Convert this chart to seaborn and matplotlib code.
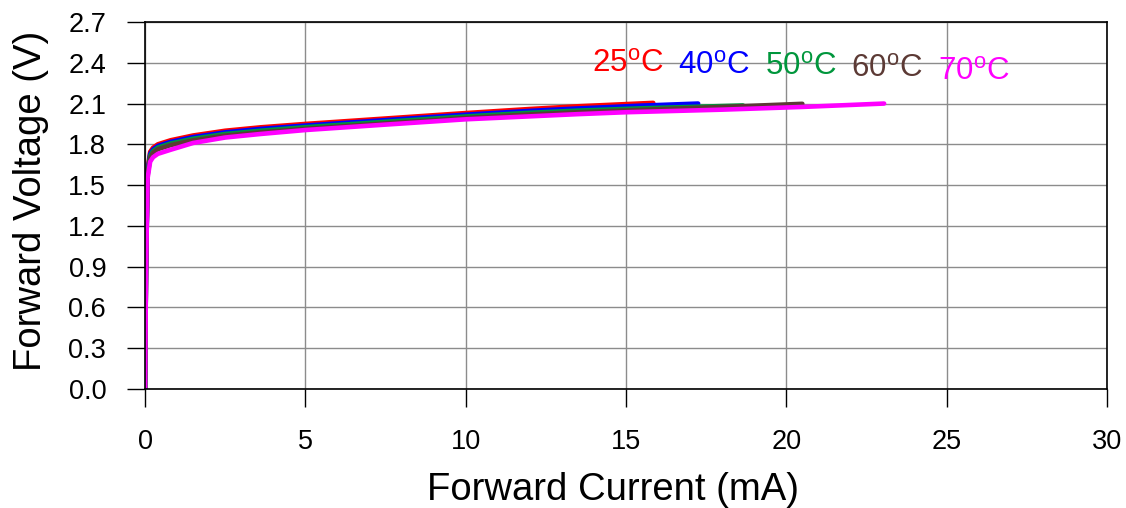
import pandas as pd
import matplotlib.pyplot as plt
import seaborn as sns

# forward current (mA) / forward voltage (V)
i_25 = [0, 0.03, 0.08, 0.16, 0.25, 0.4, 0.8, 1.5, 2.5, 3.6, 5, 7.5, 10, 12, 13.5, 15.85]
v_25 = [0, 0.9, 1.62, 1.745, 1.775, 1.80, 1.83, 1.865, 1.90, 1.925, 1.95, 1.99, 2.03, 2.06, 2.08, 2.105]

i_40 = [0, 0.03, 0.08, 0.16, 0.25, 0.4, 0.8, 1.5, 2.5, 3.6, 5, 7.5, 10, 12, 13.5, 15.5, 17.25]
v_40 = [0, 0.88, 1.60, 1.73, 1.762, 1.788, 1.818, 1.853, 1.888, 1.913, 1.938, 1.978, 2.018, 2.046, 2.064, 2.085, 2.10]

i_50 = [0, 0.03, 0.08, 0.16, 0.25, 0.4, 0.8, 1.5, 2.5, 3.6, 5, 7.5, 10, 12, 13.5, 15.5, 17.9, 18.65]
v_50 = [0, 0.87, 1.585, 1.715, 1.75, 1.776, 1.806, 1.841, 1.876, 1.90, 1.926, 1.966, 2.005, 2.032, 2.048, 2.065, 2.081, 2.086]

i_60 = [0, 0.03, 0.08, 0.16, 0.25, 0.4, 0.8, 1.5, 2.5, 3.6, 5, 7.5, 10, 12, 13.5, 15.5, 18, 20.5]
v_60 = [0, 0.86, 1.57, 1.70, 1.738, 1.764, 1.794, 1.829, 1.864, 1.888, 1.914, 1.954, 1.994, 2.02, 2.036, 2.054, 2.075, 2.098]

i_70 = [0, 0.03, 0.08, 0.16, 0.25, 0.4, 0.8, 1.5, 2.5, 3.6, 5, 7.5, 10, 13.5, 15, 18, 20.5, 23.05]
v_70 = [0, 0.85, 1.55, 1.672, 1.705, 1.73, 1.76, 1.81, 1.85, 1.876, 1.905, 1.945, 1.984, 2.022, 2.036, 2.055, 2.075, 2.10]

temps = ['25', '40', '50', '60', '70']
colors = ['#FF0000', '#0000FF', '#00963C', '#5C3A35', '#FF00FF']
x_ticks = [0, 5, 10, 15, 20, 25, 30]
y_ticks = [0.0, 0.3, 0.6, 0.9, 1.2, 1.5, 1.8, 2.1, 2.4, 2.7]

sns.set_style('white')
plt.rcParams['font.family'] = ['Liberation Sans', 'DejaVu Sans']
plt.rcParams['mathtext.fontset'] = 'custom'
plt.rcParams['mathtext.rm'] = 'Liberation Sans'
plt.rcParams['text.color'] = 'black'
plt.rcParams['axes.labelcolor'] = 'black'
plt.rcParams['xtick.color'] = 'black'
plt.rcParams['ytick.color'] = 'black'

frames = []
for t, i, v in zip(temps, [i_25, i_40, i_50, i_60, i_70], [v_25, v_40, v_50, v_60, v_70]):
    frames.append(pd.DataFrame({'I': i, 'V': v, 'T': t}))
df = pd.concat(frames, ignore_index=True)

fig = plt.figure(figsize=(11.26, 5.08), dpi=100)
ax = fig.add_axes([0.1288, 0.2343, 0.8543, 0.7224])

sns.lineplot(data=df, x='I', y='V', hue='T', hue_order=temps, palette=colors,
             estimator=None, sort=False, linewidth=3.3, legend=False, ax=ax)

ax.set_xlim(0, 30)
ax.set_ylim(0, 2.7)
ax.set_xticks(x_ticks)
ax.set_yticks(y_ticks)
ax.set_yticklabels([f'{y:.1f}' for y in y_ticks])
ax.grid(True, color='#8c8c8c', linewidth=1)
ax.set_axisbelow(True)
for s in ax.spines.values():
    s.set_color('black')
    s.set_linewidth(1.2)
ax.tick_params(axis='both', direction='out', length=13, width=1,
               labelsize=19.5, left=True, bottom=True)
ax.tick_params(axis='y', pad=15)
ax.tick_params(axis='x', pad=16)

ax.set_xlabel('Forward Current (mA)', fontsize=27.5, labelpad=12)
ax.set_ylabel('Forward Voltage (V)', fontsize=27.5, labelpad=14)
ax.xaxis.label.set_x(0.4865)
ax.yaxis.label.set_y(0.512)

# temperature labels
lab_x = [13.93, 16.62, 19.33, 22.01, 24.73]
lab_y = [2.335, 2.318, 2.308, 2.294, 2.274]
for t, c, x, y in zip(temps, colors, lab_x, lab_y):
    ax.text(x, y, t + r'$^{\rm o}$C', color=c, fontsize=22.5, ha='left', va='baseline')

fig.savefig('out.png', dpi=100)
